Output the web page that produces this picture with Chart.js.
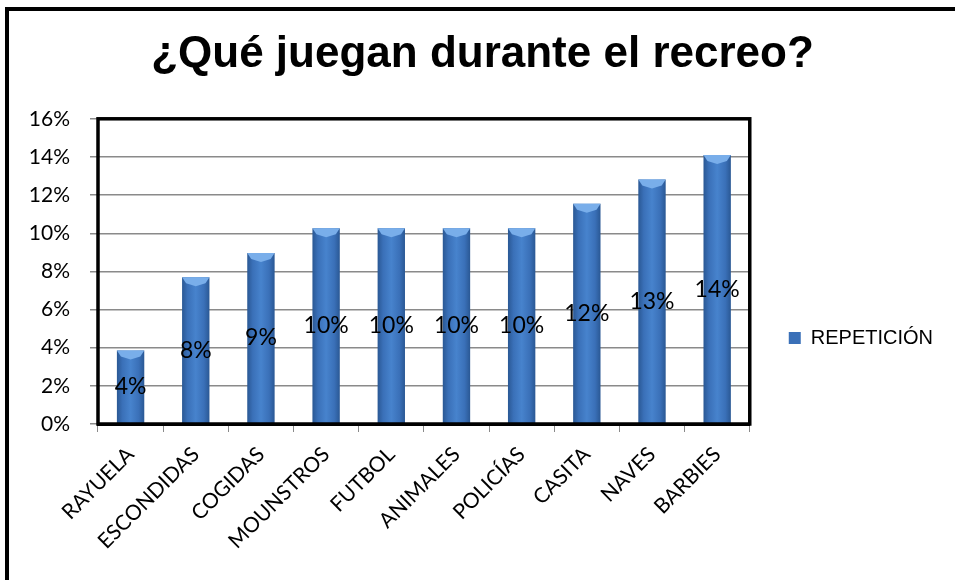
<!DOCTYPE html>
<html>
<head>
<meta charset="utf-8">
<script src="https://cdn.jsdelivr.net/npm/chart.js@4.4.1/dist/chart.umd.min.js"></script>
<style>
  html, body { margin: 0; padding: 0; background: #fff; }
  #wrap { width: 955px; height: 580px; }
</style>
</head>
<body>
<div id="wrap"><canvas id="chart" width="955" height="580"></canvas></div>
<script>
// datos
const juegos = ["RAYUELA", "ESCONDIDAS", "COGIDAS", "MOUNSTROS", "FUTBOL", "ANIMALES", "POLICÍAS", "CASITA", "NAVES", "BARBIES"];
const repeticion = [3.85, 7.69, 8.97, 10.26, 10.26, 10.26, 10.26, 11.54, 12.82, 14.10];
const ticksY = [0, 2, 4, 6, 8, 10, 12, 14, 16];

const fuente = "Lato, 'Open Sans', sans-serif";
const fuenteTitulo = "'Liberation Sans', Arial, sans-serif";

// marco exterior (izquierda y arriba)
const marco = {
    id: "marco",
    beforeDraw(chart) {
        const { ctx, width, height } = chart;
        ctx.save();
        ctx.fillStyle = "#fff";
        ctx.fillRect(0, 0, width, height);
        ctx.strokeStyle = "#000";
        ctx.lineWidth = 4;
        ctx.beginPath();
        ctx.moveTo(7, height);
        ctx.lineTo(7, 9);
        ctx.lineTo(width, 9);
        ctx.stroke();
        ctx.restore();
    }
};

// borde del área de trazado + bisel superior + etiquetas
const extras = {
    id: "extras",
    afterDatasetsDraw(chart) {
        const { ctx, chartArea: { left, right, top, bottom } } = chart;
        const meta = chart.getDatasetMeta(0);

        ctx.save();
        // bisel claro arriba de cada barra
        meta.data.forEach(bar => {
            const w = bar.width;
            const x0 = bar.x - w / 2;
            ctx.fillStyle = "#79aeea";
            ctx.beginPath();
            ctx.moveTo(x0, bar.y);
            ctx.lineTo(x0 + w, bar.y);
            ctx.lineTo(x0 + w - 4, bar.y + 6);
            ctx.lineTo(bar.x, bar.y + 9);
            ctx.lineTo(x0 + 4, bar.y + 6);
            ctx.closePath();
            ctx.fill();
        });

        // borde
        ctx.strokeStyle = "#000";
        ctx.lineWidth = 3.5;
        ctx.strokeRect(left, top, right - left, bottom - top);

        // etiquetas de datos
        ctx.fillStyle = "#000";
        ctx.font = "23px " + fuente;
        ctx.textAlign = "center";
        ctx.textBaseline = "middle";
        meta.data.forEach((bar, i) => {
            const y = (bar.y + bar.base) / 2;
            ctx.fillText(Math.round(repeticion[i]) + "%", bar.x, y);
        });
        ctx.restore();
    }
};

function degradado(context) {
    const chart = context.chart;
    const x = chart.scales.x;
    if (!x || context.dataIndex === undefined) return "#3a70b8";
    const cx = x.getPixelForValue(context.dataIndex);
    const w = (x.width / juegos.length) * 0.42;
    const g = chart.ctx.createLinearGradient(cx - w / 2, 0, cx + w / 2, 0);
    g.addColorStop(0, "#2a5894");
    g.addColorStop(0.2, "#3a70b8");
    g.addColorStop(0.5, "#4783cd");
    g.addColorStop(0.8, "#3a70b8");
    g.addColorStop(1, "#2a5894");
    return g;
}

new Chart(document.getElementById("chart"), {
    type: "bar",
    data: {
        labels: juegos,
        datasets: [{
            label: "REPETICIÓN",
            data: repeticion,
            backgroundColor: degradado,
            borderWidth: 0,
            categoryPercentage: 0.42,
            barPercentage: 1
        }]
    },
    options: {
        responsive: false,
        animation: false,
        layout: {
            padding: { left: 22, right: 12, top: 10, bottom: 0 }
        },
        plugins: {
            title: {
                display: true,
                text: "¿Qué juegan durante el recreo?",
                color: "#000",
                font: { family: fuenteTitulo, size: 44, weight: "bold", lineHeight: 1.2 },
                padding: { top: 18, bottom: 38 }
            },
            legend: {
                position: "right",
                title: {
                    display: true,
                    text: " ",
                    font: { size: 10, lineHeight: 1 },
                    padding: { top: 76, bottom: 0 }
                },
                labels: {
                    boxWidth: 12,
                    boxHeight: 12,
                    padding: 39,
                    color: "#000",
                    font: { family: fuenteTitulo, size: 20 },
                    generateLabels(chart) {
                        return [{
                            text: chart.data.datasets[0].label,
                            fillStyle: "#3a70b8",
                            strokeStyle: "#3a70b8",
                            fontColor: "#000",
                            lineWidth: 0,
                            datasetIndex: 0
                        }];
                    }
                }
            },
            tooltip: { enabled: false }
        },
        scales: {
            x: {
                grid: {
                    offset: true,
                    drawOnChartArea: false,
                    color: "#8a8a8a",
                    tickLength: 8
                },
                border: { color: "#000", width: 3 },
                ticks: {
                    color: "#000",
                    font: { family: fuente, size: 21 },
                    maxRotation: 45,
                    minRotation: 45,
                    padding: 10
                },
                afterFit(scale) { scale.height = 156; }
            },
            y: {
                min: 0,
                max: 16,
                afterBuildTicks(scale) {
                    scale.ticks = ticksY.map(v => ({ value: v }));
                },
                grid: {
                    color: "#8a8a8a",
                    lineWidth: 1.5,
                    tickLength: 8
                },
                border: { color: "#000", width: 2 },
                ticks: {
                    color: "#000",
                    font: { family: fuente, size: 21 },
                    padding: 20,
                    callback: v => v + "%"
                },
                afterFit(scale) { scale.width = 76; }
            }
        }
    },
    plugins: [marco, extras]
});
</script>
</body>
</html>
